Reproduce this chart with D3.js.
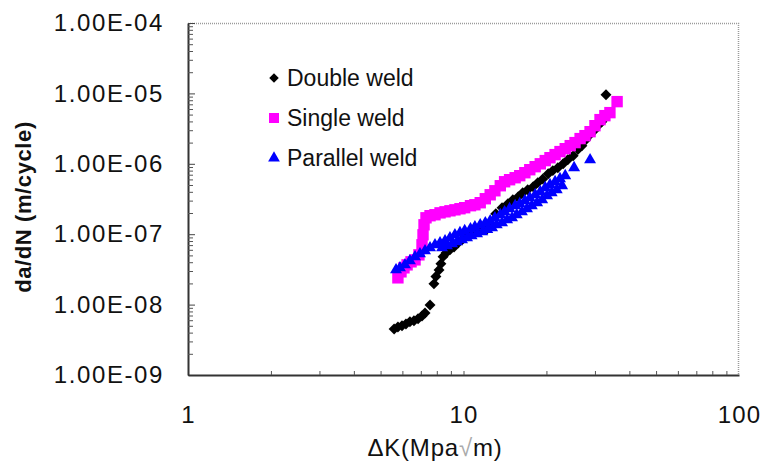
<!DOCTYPE html>
<html>
<head>
<meta charset="utf-8">
<script src="https://cdn.jsdelivr.net/npm/d3@7/dist/d3.min.js"></script>
<style>
   body { margin: 0; background: #fff; }
   svg text { font-family: Arial, "Liberation Sans", sans-serif; fill: #111; }
</style>
</head>
<body>
<div id="chart"></div>
<script>
//--------------------------------------------------------------
// DATA
//--------------------------------------------------------------
// double weld: delta K and da/dN
var doubleK = [5.60, 5.78, 5.98, 6.18, 6.39, 6.61, 6.84, 7.07, 7.25, 7.56,
   7.81, 7.94, 8.15, 8.28, 8.43, 8.64, 8.93, 9.24, 9.55, 9.88,
   10.4, 10.9, 11.5, 12.2, 12.5, 13.1, 13.8, 14.5, 15.1, 15.8,
   16.4, 17.1, 17.9, 18.6, 19.4, 20.3, 21.1, 22.0, 23.0, 23.9,
   25.0, 26.0, 26.9, 27.8, 28.8, 29.8, 30.8, 31.8, 32.9];
var doubleRate = [4.5e-9, 4.8e-9, 5.0e-9, 5.3e-9, 5.7e-9, 5.9e-9, 6.3e-9, 6.9e-9, 7.6e-9, 9.9e-9,
   1.97e-8, 2.5e-8, 3.1e-8, 3.8e-8, 4.8e-8, 5.4e-8, 6.0e-8, 6.6e-8, 7.5e-8, 8.3e-8,
   9.5e-8, 1.05e-7, 1.12e-7, 1.19e-7, 1.36e-7, 1.95e-7, 2.38e-7, 2.7e-7, 3.08e-7, 3.4e-7,
   3.88e-7, 4.28e-7, 4.72e-7, 5.4e-7, 6.1e-7, 7.2e-7, 8.0e-7, 8.8e-7, 1.0e-6, 1.14e-6,
   1.30e-6, 1.59e-6, 1.81e-6, 2.2e-6, 2.6e-6, 2.96e-6, 3.5e-6, 3.97e-6, 9.6e-6];

// single weld
var singleK = [5.78, 5.93, 6.08, 6.24, 6.45, 6.67, 6.89, 7.07, 7.13, 7.19,
   7.31, 7.56, 7.88, 8.22, 8.57, 8.93, 9.31, 9.71, 10.1, 10.6,
   11.0, 11.5, 12.0, 12.5, 13.0, 13.6, 14.1, 14.7, 15.4, 16.0,
   16.7, 17.4, 18.2, 19.0, 19.8, 20.6, 21.5, 22.4, 23.4, 24.4,
   25.4, 26.5, 27.6, 28.8, 30.0, 31.3, 32.6, 34.0, 36.1];
var singleRate = [2.40e-8, 2.92e-8, 3.33e-8, 3.67e-8, 4.05e-8, 4.32e-8, 5.09e-8, 7.07e-8, 9.8e-8, 1.36e-7,
   1.71e-7, 1.83e-7, 1.89e-7, 2.01e-7, 2.08e-7, 2.15e-7, 2.22e-7, 2.30e-7, 2.38e-7, 2.54e-7,
   2.62e-7, 2.80e-7, 3.19e-7, 3.63e-7, 4.14e-7, 4.88e-7, 5.56e-7, 5.94e-7, 6.34e-7, 6.78e-7,
   7.47e-7, 8.24e-7, 9.1e-7, 1.00e-6, 1.11e-6, 1.22e-6, 1.35e-6, 1.49e-6, 1.64e-6, 1.81e-6,
   2.00e-6, 2.28e-6, 2.51e-6, 2.86e-6, 3.48e-6, 4.24e-6, 4.83e-6, 5.33e-6, 7.64e-6];

// parallel weld (upper run, then lower-edge points of the band)
var parallelK = [5.69, 5.88, 6.13, 6.39, 6.67, 6.95, 7.25, 7.56, 7.88, 8.22,
   8.57, 8.93, 9.31, 9.71, 10.1, 10.6, 11.0, 11.5, 12.0, 12.5,
   13.0, 13.6, 14.1, 14.7, 15.4, 16.0, 16.7, 17.4, 18.2, 19.0,
   19.8, 20.6, 21.5, 22.4, 23.4, 25.2, 28.8,
   8.36, 9.09, 9.88, 10.7, 11.7, 12.7, 13.8, 15.0, 16.3, 17.7,
   19.3, 20.9, 22.8,
   8.71, 9.47, 10.3, 11.2, 12.2, 13.2, 14.4, 15.6, 17.0, 18.5,
   20.1, 21.8];
var parallelRate = [3.12e-8, 3.33e-8, 3.67e-8, 4.19e-8, 4.77e-8, 5.26e-8, 5.81e-8, 6.41e-8, 7.07e-8, 7.55e-8,
   8.05e-8, 8.89e-8, 9.8e-8, 1.05e-7, 1.12e-7, 1.19e-7, 1.27e-7, 1.36e-7, 1.45e-7, 1.55e-7,
   1.71e-7, 1.89e-7, 2.08e-7, 2.30e-7, 2.54e-7, 2.71e-7, 2.99e-7, 3.29e-7, 3.63e-7, 4.01e-7,
   4.57e-7, 5.04e-7, 5.56e-7, 6.14e-7, 6.78e-7, 8.79e-7, 1.14e-6,
   6.41e-8, 7.3e-8, 8.3e-8, 9.5e-8, 1.08e-7, 1.23e-7, 1.45e-7, 1.71e-7, 2.08e-7, 2.54e-7,
   3.08e-7, 3.88e-7, 4.88e-7,
   6.84e-8, 7.8e-8, 8.89e-8, 1.01e-7, 1.16e-7, 1.36e-7, 1.60e-7, 1.89e-7, 2.30e-7, 2.80e-7,
   3.52e-7, 4.28e-7];

// axes
var xTickValues = [1, 10, 100];
var yTickValues = [1e-9, 1e-8, 1e-7, 1e-6, 1e-5, 1e-4];
var yTickLabels = ["1.00E-09", "1.00E-08", "1.00E-07", "1.00E-06", "1.00E-05", "1.00E-04"];
var seriesNames = ["Double weld", "Single weld", "Parallel weld"];
//--------------------------------------------------------------


//--------------------------------------------------------------
// CHART SIZE PARAMETERS
//--------------------------------------------------------------
var width = 762;
var height = 463;

var margin = {
   top: 23,
   right: 23,
   bottom: 88,
   left: 188
};

var chartWidth = width - margin.left - margin.right
var chartHeight = height - margin.top - margin.bottom
//--------------------------------------------------------------

var svg = d3.select("#chart").append("svg")
   .attr("width", width)
   .attr("height", height)

svg.append("rect")
   .attr("width", width)
   .attr("height", height)
   .attr("fill", "#fff")

var chartGroup = svg.append("g")
   .attr("transform", `translate(${margin.left}, ${margin.top})`)

// log scales
var xScale = d3.scaleLog()
   .domain([1, 100])
   .range([0, chartWidth]);

var yScale = d3.scaleLog()
   .domain([1e-9, 1e-4])
   .range([chartHeight, 0]);

// minor tick values 2..9 per decade
var xMinor = [];
[1, 10].forEach(function(d) {
   for (var k = 2; k <= 9; k++) xMinor.push(d * k);
});
var yMinor = [];
yTickValues.slice(0, 5).forEach(function(d) {
   for (var k = 2; k <= 9; k++) yMinor.push(d * k);
});

// dotted frame (top and right)
chartGroup.append("path")
   .attr("d", `M0,0.5H${chartWidth - 0.5}V${chartHeight}`)
   .attr("fill", "none")
   .attr("stroke", "#9a9a9a")
   .attr("stroke-width", 1.5)
   .attr("stroke-dasharray", "1,1")

//------------------------------
// Y AXIS
//------------------------------
var leftAxis = d3.axisLeft(yScale)
   .tickValues(yTickValues)
   .tickSize(0)
   .tickPadding(24)
   .tickFormat((d, i) => yTickLabels[i]);

var yAxis = chartGroup.append("g")
   .call(leftAxis)
yAxis.select(".domain").attr("stroke", "#333").attr("stroke-width", 2)
yAxis.selectAll("text")
   .attr("font-size", 24)
   .attr("letter-spacing", 1.6)
   .attr("fill", "#222")

// minor ticks inside
var yMinorAxis = d3.axisRight(yScale)
   .tickValues(yMinor)
   .tickSize(5)
   .tickFormat("");
var yMinorG = chartGroup.append("g").call(yMinorAxis)
yMinorG.select(".domain").remove()
yMinorG.selectAll("line").attr("stroke", "#555")

var yMajorG = chartGroup.append("g")
   .call(d3.axisRight(yScale).tickValues(yTickValues).tickSize(7).tickFormat(""))
yMajorG.select(".domain").remove()
yMajorG.selectAll("line").attr("stroke", "#444")

//------------------------------
// X AXIS
//------------------------------
var bottomAxis = d3.axisBottom(xScale)
   .tickValues(xTickValues)
   .tickSize(0)
   .tickPadding(31)
   .tickFormat(d3.format("d"));

var xAxis = chartGroup.append("g")
   .attr("transform", `translate(0, ${chartHeight})`)
   .call(bottomAxis)
xAxis.select(".domain").attr("stroke", "#333").attr("stroke-width", 2)
xAxis.selectAll("text")
   .attr("font-size", 24)
   .attr("letter-spacing", 1.2)
   .attr("fill", "#222")

var xMinorG = chartGroup.append("g")
   .attr("transform", `translate(0, ${chartHeight})`)
   .call(d3.axisTop(xScale).tickValues(xMinor.concat([10])).tickSize(4).tickFormat(""))
xMinorG.select(".domain").remove()
xMinorG.selectAll("line").attr("stroke", "#555")

//------------------------------
// AXIS TITLES
//------------------------------
svg.append("text")
   .attr("transform", "translate(31, 207) rotate(-90)")
   .attr("text-anchor", "middle")
   .attr("font-size", 22)
   .attr("font-weight", "bold")
   .attr("letter-spacing", 0.6)
   .text("da/dN (m/cycle)")

var xTitle = svg.append("text")
   .attr("x", 435)
   .attr("y", 456)
   .attr("text-anchor", "middle")
   .attr("font-size", 24)
   .attr("letter-spacing", 0.8)
xTitle.append("tspan").text("ΔK(Mpa")
xTitle.append("tspan").attr("fill", "#aaa").text("√")
xTitle.append("tspan").text("m)")

//------------------------------
// SCATTER SERIES
//------------------------------
var series = [
   { name: seriesNames[0], k: doubleK, rate: doubleRate, color: "#000000",
     shape: d3.symbol().type(d3.symbolSquare).size(60), legendShape: d3.symbol().type(d3.symbolSquare).size(45), rotate: 45 },
   { name: seriesNames[1], k: singleK, rate: singleRate, color: "#ff00ff",
     shape: d3.symbol().type(d3.symbolSquare).size(130), legendShape: d3.symbol().type(d3.symbolSquare).size(100), rotate: 0 },
   { name: seriesNames[2], k: parallelK, rate: parallelRate, color: "#0000ff",
     shape: d3.symbol().type(d3.symbolTriangle).size(62), legendShape: d3.symbol().type(d3.symbolTriangle).size(60), rotate: 0 }
];

series.forEach(function(s) {
   var points = s.k.map((k, i) => ({ k: k, rate: s.rate[i] }));
   chartGroup.append("g").selectAll("path")
      .data(points)
      .enter()
      .append("path")
      .attr("d", s.shape)
      .attr("fill", s.color)
      .attr("transform", d => `translate(${xScale(d.k)}, ${yScale(d.rate)}) rotate(${s.rotate})`)
});

//------------------------------
// LEGEND
//------------------------------
var legend = svg.append("g")
   .attr("transform", "translate(274, 78)")

series.forEach(function(s, i) {
   var row = legend.append("g")
      .attr("transform", `translate(0, ${i * 40})`)
   row.append("path")
      .attr("d", s.legendShape)
      .attr("fill", s.color)
      .attr("transform", `rotate(${s.rotate})`)
   row.append("text")
      .attr("x", 13)
      .attr("y", 0)
      .attr("dy", "0.35em")
      .attr("font-size", 23)
      .attr("fill", "#111")
      .text(s.name)
});
</script>
</body>
</html>
